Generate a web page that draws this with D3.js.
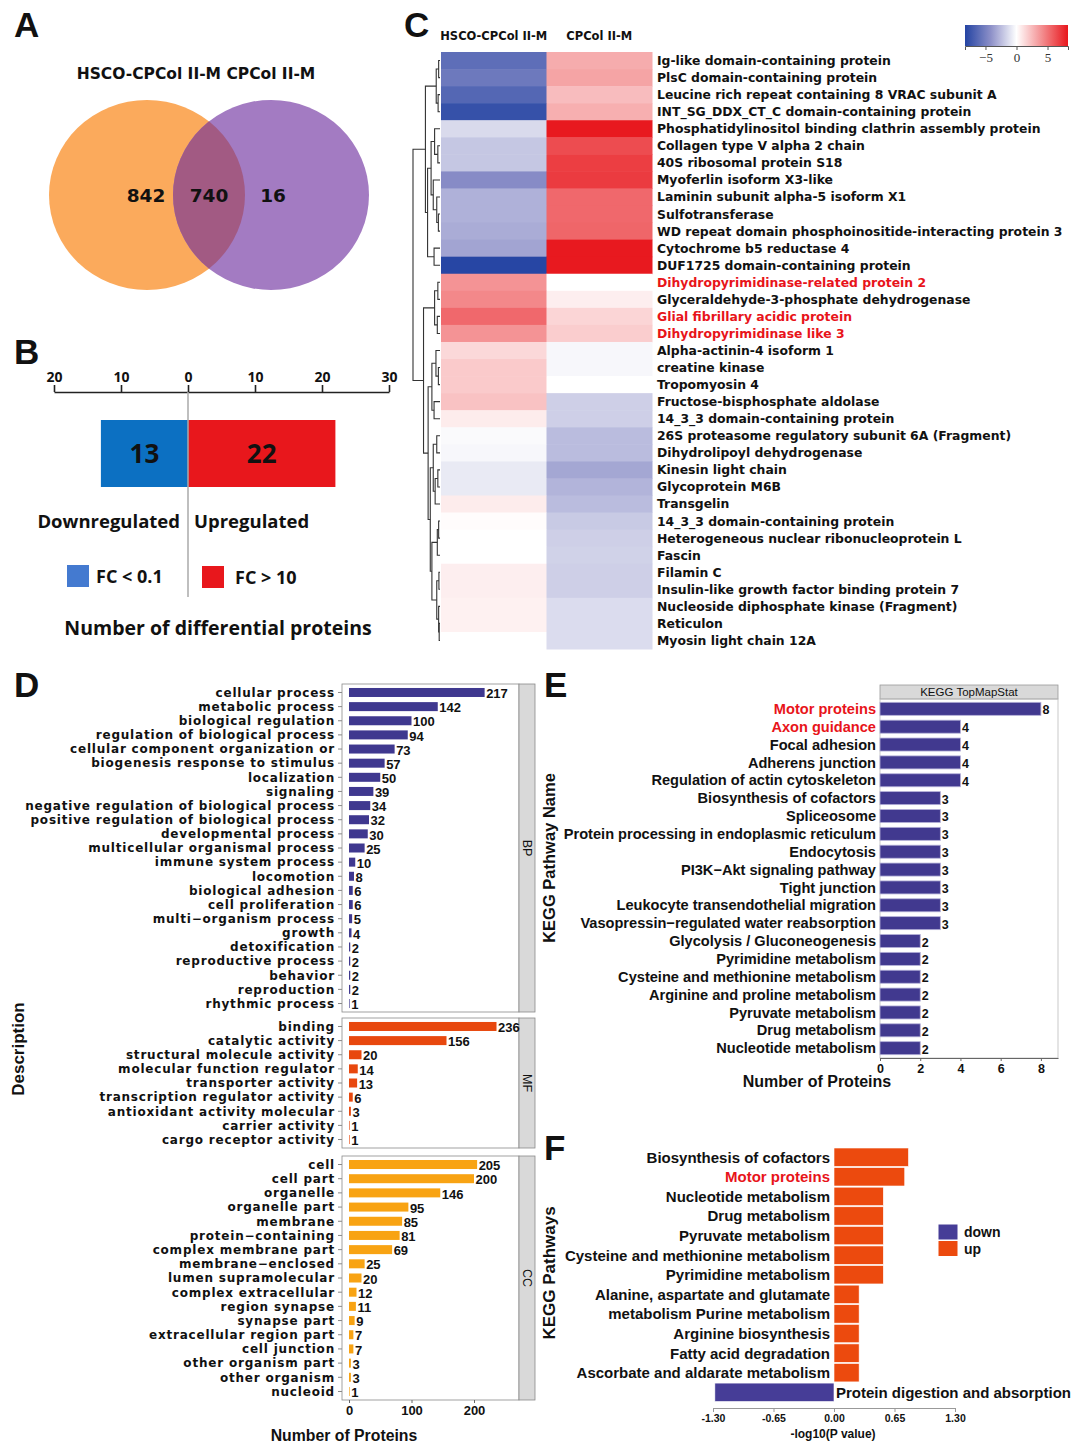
<!DOCTYPE html>
<html>
<head>
<meta charset="utf-8">
<script src="https://cdn.jsdelivr.net/npm/d3@7"></script>
<style>
  body { margin: 0; background: #fff; }
  svg { display: block; }
  text { font-family: "Liberation Sans", Arial, sans-serif; fill: #111; }
  .os { font-family: "Open Sans", "DejaVu Sans", sans-serif; }
  .dv { font-family: "DejaVu Sans", Verdana, sans-serif; }
</style>
</head>
<body>
<div id="chart"></div>
<script>
// ---- data ----
const vennSets = ['HSCO-CPCol II-M', 'CPCol II-M'];
const vennCounts = [842, 740, 16]; // only left, shared, only right

const diffLabels = ['Downregulated', 'Upregulated'];
const diffCounts = [-13, 22];
const diffLegend = ['FC < 0.1', 'FC > 10'];

const heatColumns = ['HSCO-CPCol II-M', 'CPCol II-M'];
const heatProteins = [
  'Ig-like domain-containing protein',
  'PlsC domain-containing protein',
  'Leucine rich repeat containing 8 VRAC subunit A',
  'INT_SG_DDX_CT_C domain-containing protein',
  'Phosphatidylinositol binding clathrin assembly protein',
  'Collagen type V alpha 2 chain',
  '40S ribosomal protein S18',
  'Myoferlin isoform X3-like',
  'Laminin subunit alpha-5 isoform X1',
  'Sulfotransferase',
  'WD repeat domain phosphoinositide-interacting protein 3',
  'Cytochrome b5 reductase 4',
  'DUF1725 domain-containing protein',
  'Dihydropyrimidinase-related protein 2',
  'Glyceraldehyde-3-phosphate dehydrogenase',
  'Glial fibrillary acidic protein',
  'Dihydropyrimidinase like 3',
  'Alpha-actinin-4 isoform 1',
  'creatine kinase',
  'Tropomyosin 4',
  'Fructose-bisphosphate aldolase',
  '14_3_3 domain-containing protein',
  '26S proteasome regulatory subunit 6A (Fragment)',
  'Dihydrolipoyl dehydrogenase',
  'Kinesin light chain',
  'Glycoprotein M6B',
  'Transgelin',
  '14_3_3 domain-containing protein',
  'Heterogeneous nuclear ribonucleoprotein L',
  'Fascin',
  'Filamin C',
  'Insulin-like growth factor binding protein 7',
  'Nucleoside diphosphate kinase (Fragment)',
  'Reticulon',
  'Myosin light chain 12A',
];
const heatHSCO = [-6.0, -5.4, -6.4, -7.6, -1.4, -2.1, -2.1, -4.4, -2.9, -2.9, -3.1, -3.4, -8.2,
  3.9, 4.3, 5.4, 3.9, 1.4, 1.9, 1.9, 2.2, 0.7, -0.2, -0.3, -0.8, -0.8, 0.7, 0.1, 0.0, 0.0,
  0.6, 0.6, 0.5, 0.5, 0.0];
const heatCPCol = [3.0, 3.3, 2.4, 2.9, 8.2, 6.4, 6.9, 7.0, 5.4, 5.4, 5.5, 8.2, 8.2,
  0.0, 0.6, 1.5, 1.8, -0.3, -0.3, 0.0, -1.8, -1.8, -2.5, -2.5, -3.3, -2.8, -2.5, -2.0, -1.8, -1.7,
  -1.8, -1.8, -1.3, -1.3, -1.3];
const heatRedRows = [13, 15, 16];
const heatLegendTicks = [-5, 0, 5];
// merge tree: [height, left, right], leaves are row indices
const heatTree = [1.0,
  [0.54,
    [0.14, [0.05, 0, 1], [0.07, 2, 3]],
    [0.46,
      [0.33, [0.2, 4, [0.08, 5, 6]], [0.25, 7, [0.12, 8, [0.06, 9, 10]]]],
      [0.22, 11, 12]]],
  [0.61,
    [0.2, [0.08, 13, 14], [0.1, 15, 16]],
    [0.44,
      [0.3, [0.15, 17, [0.06, 18, 19]], [0.22, 20, 21]],
      [0.36,
        [0.25, [0.12, 22, 23], [0.18, [0.08, 24, 25], 26]],
        [0.3, [0.1, [0.05, 27, 28], 29], [0.12, [0.04, 30, 31], [0.05, 32, [0.03, 33, 34]]]]]]]];

const bpTerms = ['cellular process', 'metabolic process', 'biological regulation',
  'regulation of biological process', 'cellular component organization or',
  'biogenesis response to stimulus', 'localization', 'signaling',
  'negative regulation of biological process', 'positive regulation of biological process',
  'developmental process', 'multicellular organismal process', 'immune system process',
  'locomotion', 'biological adhesion', 'cell proliferation', 'multi\u2212organism process',
  'growth', 'detoxification', 'reproductive process', 'behavior', 'reproduction',
  'rhythmic process'];
const bpCounts = [217, 142, 100, 94, 73, 57, 50, 39, 34, 32, 30, 25, 10, 8, 6, 6, 5, 4, 2, 2, 2, 2, 1];
const mfTerms = ['binding', 'catalytic activity', 'structural molecule activity',
  'molecular function regulator', 'transporter activity', 'transcription regulator activity',
  'antioxidant activity molecular', 'carrier activity', 'cargo receptor activity'];
const mfCounts = [236, 156, 20, 14, 13, 6, 3, 1, 1];
const ccTerms = ['cell', 'cell part', 'organelle', 'organelle part', 'membrane',
  'protein\u2212containing', 'complex  membrane part', 'membrane\u2212enclosed',
  'lumen supramolecular', 'complex  extracellular', 'region  synapse', 'synapse part',
  'extracellular region part', 'cell junction', 'other organism part', 'other organism', 'nucleoid'];
const ccCounts = [205, 200, 146, 95, 85, 81, 69, 25, 20, 12, 11, 9, 7, 7, 3, 3, 1];
const goTicks = [0, 100, 200];

const keggNames = ['Motor proteins', 'Axon guidance', 'Focal adhesion', 'Adherens junction',
  'Regulation of actin cytoskeleton', 'Biosynthesis of cofactors', 'Spliceosome',
  'Protein processing in endoplasmic reticulum', 'Endocytosis', 'PI3K\u2212Akt signaling pathway',
  'Tight junction', 'Leukocyte transendothelial migration',
  'Vasopressin\u2212regulated water reabsorption', 'Glycolysis / Gluconeogenesis',
  'Pyrimidine metabolism', 'Cysteine and methionine metabolism', 'Arginine and proline metabolism',
  'Pyruvate metabolism', 'Drug metabolism', 'Nucleotide metabolism'];
const keggCounts = [8, 4, 4, 4, 4, 3, 3, 3, 3, 3, 3, 3, 3, 2, 2, 2, 2, 2, 2, 2];
const keggRed = ['Motor proteins', 'Axon guidance'];
const keggTicks = [0, 2, 4, 6, 8];

const enrichNames = ['Biosynthesis of cofactors', 'Motor proteins', 'Nucleotide metabolism',
  'Drug metabolism', 'Pyruvate metabolism', 'Cysteine and methionine metabolism',
  'Pyrimidine metabolism', 'Alanine, aspartate and glutamate', 'metabolism Purine metabolism',
  'Arginine biosynthesis', 'Fatty acid degradation', 'Ascorbate and aldarate metabolism',
  'Protein digestion and absorption'];
const enrichValues = [0.80, 0.76, 0.53, 0.53, 0.53, 0.53, 0.53, 0.27, 0.27, 0.27, 0.27, 0.27, -1.28];
const enrichRed = ['Motor proteins'];
const enrichTicks = [-1.3, -0.65, 0, 0.65, 1.3];
const enrichLegend = ['down', 'up'];

const RED_TEXT = '#e8141a';

// ---- setup ----
const svg = d3.select('#chart')
    .append('svg')
    .attr('width', 1080)
    .attr('height', 1451);

const panelLetter = (txt, x, y) => {
  svg.append('text')
      .attr('x', x)
      .attr('y', y)
      .style('font-size', '35px')
      .style('font-weight', 'bold')
      .text(txt);
};
panelLetter('A', 14, 37);
panelLetter('B', 14, 364);
panelLetter('C', 404, 37);
panelLetter('D', 14, 697);
panelLetter('E', 544, 697);
panelLetter('F', 544, 1160);

// ---- A: venn ----
const venn = svg.append('g');
const vennL = {cx: 147, cy: 195, rx: 98, ry: 95};
const vennR = {cx: 271, cy: 195, rx: 98, ry: 95};
venn.append('clipPath')
    .attr('id', 'clipL')
    .append('ellipse')
    .attr('cx', vennL.cx).attr('cy', vennL.cy).attr('rx', vennL.rx).attr('ry', vennL.ry);
venn.append('ellipse')
    .attr('cx', vennL.cx).attr('cy', vennL.cy).attr('rx', vennL.rx).attr('ry', vennL.ry)
    .attr('fill', '#fbaa5c');
venn.append('ellipse')
    .attr('cx', vennR.cx).attr('cy', vennR.cy).attr('rx', vennR.rx).attr('ry', vennR.ry)
    .attr('fill', '#a37bc2');
venn.append('ellipse')
    .attr('clip-path', 'url(#clipL)')
    .attr('cx', vennR.cx).attr('cy', vennR.cy).attr('rx', vennR.rx).attr('ry', vennR.ry)
    .attr('fill', '#a25a83');
venn.append('text')
    .attr('class', 'dv')
    .attr('x', 196)
    .attr('y', 79)
    .attr('text-anchor', 'middle')
    .style('font-size', '15.5px')
    .style('font-weight', 'bold')
    .text(vennSets.join('  '));
venn.selectAll('.vc')
    .data(vennCounts)
    .enter()
    .append('text')
    .attr('class', 'dv')
    .attr('x', (d, i) => [146, 209, 273][i])
    .attr('y', 202)
    .attr('text-anchor', 'middle')
    .style('font-size', '18.5px')
    .style('font-weight', 'bold')
    .text((d) => d);

// ---- B: diverging bar ----
const xB = d3.scaleLinear().domain([-20, 30]).range([54, 389]);
const gB = svg.append('g');
gB.append('g')
    .attr('transform', 'translate(0, 392)')
    .call(d3.axisTop(xB).tickValues([-20, -10, 0, 10, 20, 30])
        .tickFormat((d) => Math.abs(d)).tickSize(7).tickSizeOuter(0))
    .call((g) => {
      g.select('.domain').attr('stroke', '#222').attr('stroke-width', 1.6);
      g.selectAll('.tick line').attr('stroke', '#222').attr('stroke-width', 1.6);
      g.selectAll('.tick text')
          .attr('class', 'os')
          .style('font-size', '14px')
          .style('font-weight', 'bold');
    });
gB.selectAll('.barB')
    .data(diffCounts)
    .enter()
    .append('rect')
    .attr('x', (d) => xB(Math.min(0, d)))
    .attr('width', (d) => Math.abs(xB(d) - xB(0)))
    .attr('y', 420)
    .attr('height', 67)
    .attr('fill', (d) => d < 0 ? '#0c70c2' : '#e8171c');
gB.append('line')
    .attr('x1', xB(0)).attr('x2', xB(0))
    .attr('y1', 392).attr('y2', 597)
    .attr('stroke', '#aaa').attr('stroke-width', 1.5);
gB.selectAll('.numB')
    .data(diffCounts)
    .enter()
    .append('text')
    .attr('class', 'os')
    .attr('x', (d) => (xB(d) + xB(0)) / 2)
    .attr('y', 463)
    .attr('text-anchor', 'middle')
    .style('font-size', '26px')
    .style('font-weight', 'bold')
    .text((d) => Math.abs(d));
gB.selectAll('.lblB')
    .data(diffLabels)
    .enter()
    .append('text')
    .attr('class', 'os')
    .attr('x', (d, i) => i === 0 ? xB(0) - 8 : xB(0) + 6)
    .attr('y', 528)
    .attr('text-anchor', (d, i) => i === 0 ? 'end' : 'start')
    .style('font-size', '18.5px')
    .style('font-weight', 'bold')
    .text((d) => d);
diffLegend.forEach((d, i) => {
  const lx = i === 0 ? 67 : 202;
  gB.append('rect')
      .attr('x', lx).attr('y', 565 + i)
      .attr('width', 22).attr('height', 22)
      .attr('fill', i === 0 ? '#447ad0' : '#e8171c');
  gB.append('text')
      .attr('class', 'os')
      .attr('x', lx + (i === 0 ? 29 : 33))
      .attr('y', 583 + i)
      .style('font-size', '18px')
      .style('font-weight', 'bold')
      .text(d);
});
gB.append('text')
    .attr('class', 'os')
    .attr('x', 218)
    .attr('y', 635)
    .attr('text-anchor', 'middle')
    .style('font-size', '19.5px')
    .style('font-weight', 'bold')
    .text('Number of differential proteins');

// ---- C: heatmap ----
const gC = svg.append('g');
const rowIdx = d3.range(heatProteins.length);
const yC = d3.scaleBand().domain(rowIdx).range([52, 649]);
const xC = d3.scaleBand().domain(heatColumns).range([441, 652]);
const heatColor = d3.scaleLinear()
    .domain([-8.3, -4.15, 0, 4.15, 8.3])
    .range(['#2444a3', '#8d90c8', '#ffffff', '#f38c8e', '#e8161c']);
const heatCells = [];
rowIdx.forEach((i) => {
  heatCells.push({row: i, col: heatColumns[0], v: heatHSCO[i]});
  heatCells.push({row: i, col: heatColumns[1], v: heatCPCol[i]});
});
gC.selectAll('.cell')
    .data(heatCells)
    .enter()
    .append('rect')
    .attr('x', (d) => xC(d.col))
    .attr('y', (d) => yC(d.row))
    .attr('width', xC.bandwidth() + 0.5)
    .attr('height', yC.bandwidth() + 0.5)
    .attr('fill', (d) => heatColor(d.v));
gC.selectAll('.colname')
    .data(heatColumns)
    .enter()
    .append('text')
    .attr('class', 'dv')
    .attr('x', (d) => xC(d) + xC.bandwidth() / 2)
    .attr('y', 40)
    .attr('text-anchor', 'middle')
    .style('font-size', '11.5px')
    .style('font-weight', 'bold')
    .text((d) => d);
gC.selectAll('.rowname')
    .data(rowIdx)
    .enter()
    .append('text')
    .attr('class', 'dv')
    .attr('x', 657)
    .attr('y', (d) => yC(d) + yC.bandwidth() / 2)
    .attr('dy', '0.36em')
    .style('fill', (d) => heatRedRows.includes(d) ? RED_TEXT : '#111')
    .style('font-size', '12.4px')
    .style('font-weight', 'bold')
    .text((d) => heatProteins[d]);

// dendrogram
const xDen = d3.scaleLinear().domain([0, 1]).range([440, 413]);
const drawNode = (node) => {
  if (typeof node === 'number') {
    return {x: xDen(0), y: yC(node) + yC.bandwidth() / 2};
  }
  const a = drawNode(node[1]);
  const b = drawNode(node[2]);
  const x = xDen(node[0]);
  gC.append('path')
      .attr('d', `M${a.x},${a.y}H${x}V${b.y}H${b.x}`)
      .attr('fill', 'none')
      .attr('stroke', '#333')
      .attr('stroke-width', 1.1);
  return {x: x, y: (a.y + b.y) / 2};
};
drawNode(heatTree);

// colour key
const defs = svg.append('defs');
const grad = defs.append('linearGradient').attr('id', 'heatGrad');
d3.range(0, 1.001, 0.05).forEach((t) => {
  grad.append('stop')
      .attr('offset', t)
      .attr('stop-color', heatColor(-8.3 + t * 16.6));
});
const xKey = d3.scaleLinear().domain([-8.3, 8.3]).range([965, 1068]);
gC.append('rect')
    .attr('x', 965).attr('y', 25)
    .attr('width', 103).attr('height', 21)
    .attr('fill', 'url(#heatGrad)');
gC.append('g')
    .attr('transform', 'translate(0, 46)')
    .call(d3.axisBottom(xKey).tickValues(heatLegendTicks).tickSize(4)
        .tickFormat((d) => d < 0 ? '\u2212' + Math.abs(d) : d))
    .call((g) => {
      g.select('.domain').attr('stroke', '#555');
      g.selectAll('.tick line').attr('stroke', '#555');
      g.selectAll('.tick text')
          .style('fill', '#333')
          .style('font-family', '"Liberation Serif", "DejaVu Serif", serif')
          .style('font-size', '13px');
    });

// ---- D: GO facets ----
const xD = d3.scaleLinear().domain([-11.2, 272]).range([342, 519]);
const goFacets = [
  {name: 'BP', terms: bpTerms, counts: bpCounts, color: '#3f388f', top: 684, bottom: 1012},
  {name: 'MF', terms: mfTerms, counts: mfCounts, color: '#e8480e', top: 1018, bottom: 1148},
  {name: 'CC', terms: ccTerms, counts: ccCounts, color: '#f8a313', top: 1156, bottom: 1400},
];
const gD = svg.append('g');
goFacets.forEach((f) => {
  const y = d3.scalePoint().domain(f.terms).range([f.top, f.bottom]).padding(0.6);
  const rows = f.terms.map((t, i) => ({term: t, n: f.counts[i]}));
  gD.append('rect')
      .attr('x', 342).attr('y', f.top)
      .attr('width', 177).attr('height', f.bottom - f.top)
      .attr('fill', '#fff').attr('stroke', '#8a8a8a').attr('stroke-width', 0.8);
  gD.append('rect')
      .attr('x', 519).attr('y', f.top)
      .attr('width', 16).attr('height', f.bottom - f.top)
      .attr('fill', '#d9d9d9').attr('stroke', '#8a8a8a').attr('stroke-width', 0.8);
  gD.append('text')
      .attr('transform', `translate(523, ${(f.top + f.bottom) / 2}) rotate(90)`)
      .attr('text-anchor', 'middle')
      .style('font-size', '12.5px')
      .text(f.name);
  const row = gD.selectAll('.r' + f.name)
      .data(rows)
      .enter()
      .append('g');
  row.append('line')
      .attr('x1', 338).attr('x2', 342)
      .attr('y1', (d) => y(d.term)).attr('y2', (d) => y(d.term))
      .attr('stroke', '#888');
  row.append('rect')
      .attr('x', xD(0))
      .attr('y', (d) => y(d.term) - 4.5)
      .attr('width', (d) => xD(d.n) - xD(0))
      .attr('height', 9)
      .attr('fill', f.color);
  row.append('text')
      .attr('class', 'dv')
      .attr('x', 335)
      .attr('y', (d) => y(d.term))
      .attr('dy', '0.36em')
      .attr('text-anchor', 'end')
      .style('font-size', '12px')
      .style('letter-spacing', '0.8px')
      .style('font-weight', 'bold')
      .text((d) => d.term);
  row.append('text')
      .attr('x', (d) => xD(d.n) + 1.5)
      .attr('y', (d) => y(d.term) + 1)
      .attr('dy', '0.36em')
      .style('font-size', '13px')
      .style('font-weight', 'bold')
      .text((d) => d.n);
});
gD.append('g')
    .attr('transform', 'translate(0, 1400)')
    .call(d3.axisBottom(xD).tickValues(goTicks).tickSize(3))
    .call((g) => {
      g.select('.domain').remove();
      g.selectAll('.tick line').attr('stroke', '#666');
      g.selectAll('.tick text')
          .style('font-size', '13px')
          .style('font-weight', 'bold');
    });
gD.append('text')
    .attr('x', 344)
    .attr('y', 1441)
    .attr('text-anchor', 'middle')
    .style('font-size', '15.8px')
    .style('font-weight', 'bold')
    .text('Number of Proteins');
gD.append('text')
    .attr('transform', 'translate(24, 1049) rotate(-90)')
    .attr('text-anchor', 'middle')
    .style('font-size', '17px')
    .style('font-weight', 'bold')
    .text('Description');

// ---- E: KEGG top map ----
const xE = d3.scaleLinear().domain([0, 8.85]).range([880, 1058]);
const yE = d3.scalePoint().domain(keggNames).range([699, 1058]).padding(0.55);
const gE = svg.append('g');
gE.append('rect')
    .attr('x', 880).attr('y', 685)
    .attr('width', 178).attr('height', 14)
    .attr('fill', '#d9d9d9').attr('stroke', '#999').attr('stroke-width', 0.8);
gE.append('text')
    .attr('x', 969).attr('y', 696)
    .attr('text-anchor', 'middle')
    .style('font-size', '11.5px')
    .text('KEGG TopMapStat');
gE.append('rect')
    .attr('x', 880).attr('y', 699)
    .attr('width', 178).attr('height', 359)
    .attr('fill', 'none').attr('stroke', '#bbb').attr('stroke-width', 0.8);
gE.selectAll('.barE')
    .data(keggNames)
    .enter()
    .append('rect')
    .attr('x', xE(0))
    .attr('y', (d) => yE(d) - 6.5)
    .attr('width', (d, i) => xE(keggCounts[i]) - xE(0))
    .attr('height', 13)
    .attr('fill', '#41398f')
    .attr('stroke', '#b3b0d8')
    .attr('stroke-width', 0.8);
gE.selectAll('.lblE')
    .data(keggNames)
    .enter()
    .append('text')
    .attr('x', 876)
    .attr('y', (d) => yE(d))
    .attr('dy', '0.35em')
    .attr('text-anchor', 'end')
    .style('fill', (d) => keggRed.includes(d) ? RED_TEXT : '#111')
    .style('font-size', '14.6px')
    .style('font-weight', 'bold')
    .text((d) => d);
gE.selectAll('.valE')
    .data(keggNames)
    .enter()
    .append('text')
    .attr('x', (d, i) => xE(keggCounts[i]) + 1.5)
    .attr('y', (d) => yE(d) + 1)
    .attr('dy', '0.36em')
    .style('font-size', '12.5px')
    .style('font-weight', 'bold')
    .text((d, i) => keggCounts[i]);
gE.append('g')
    .attr('transform', 'translate(0, 1058)')
    .call(d3.axisBottom(xE).tickValues(keggTicks).tickSize(3).tickSizeOuter(0))
    .call((g) => {
      g.select('.domain').attr('stroke', '#666').attr('stroke-width', 1.2);
      g.selectAll('.tick line').attr('stroke', '#666');
      g.selectAll('.tick text')
          .style('font-size', '12.5px')
          .style('font-weight', 'bold');
    });
gE.append('text')
    .attr('x', 817).attr('y', 1087)
    .attr('text-anchor', 'middle')
    .style('font-size', '16px')
    .style('font-weight', 'bold')
    .text('Number of Proteins');
gE.append('text')
    .attr('transform', 'translate(555, 858) rotate(-90)')
    .attr('text-anchor', 'middle')
    .style('font-size', '16.5px')
    .style('font-weight', 'bold')
    .text('KEGG Pathway Name');

// ---- F: enrichment ----
const xF = d3.scaleLinear().domain([-1.3, 1.3]).range([713, 955]);
const yF = d3.scaleBand().domain(enrichNames).range([1148, 1401.5]).paddingInner(0.06);
const gF = svg.append('g');
gF.selectAll('.barF')
    .data(enrichNames)
    .enter()
    .append('rect')
    .attr('x', (d, i) => xF(Math.min(0, enrichValues[i])))
    .attr('y', (d) => yF(d))
    .attr('width', (d, i) => Math.abs(xF(enrichValues[i]) - xF(0)))
    .attr('height', yF.bandwidth())
    .attr('fill', (d, i) => enrichValues[i] < 0 ? '#463d97' : '#ec4a0e')
    .attr('stroke', '#fff')
    .attr('stroke-width', 0.6);
gF.selectAll('.lblF')
    .data(enrichNames)
    .enter()
    .append('text')
    .attr('x', (d, i) => enrichValues[i] < 0 ? xF(0) + 2 : xF(0) - 4)
    .attr('y', (d) => yF(d) + yF.bandwidth() / 2)
    .attr('dy', '0.36em')
    .attr('text-anchor', (d, i) => enrichValues[i] < 0 ? 'start' : 'end')
    .style('fill', (d) => enrichRed.includes(d) ? RED_TEXT : '#111')
    .style('font-size', '15px')
    .style('font-weight', 'bold')
    .text((d) => d);
gF.append('g')
    .attr('transform', 'translate(0, 1408)')
    .call(d3.axisBottom(xF).tickValues(enrichTicks).tickSize(4).tickSizeOuter(0)
        .tickFormat((d) => d3.format('.2f')(d).replace('\u2212', '-')))
    .call((g) => {
      g.select('.domain').attr('stroke', '#999');
      g.selectAll('.tick line').attr('stroke', '#999');
      g.selectAll('.tick text')
          .style('font-size', '10.5px')
          .style('font-weight', 'bold');
    });
gF.append('text')
    .attr('x', 833).attr('y', 1438)
    .attr('text-anchor', 'middle')
    .style('font-size', '12px')
    .style('font-weight', 'bold')
    .text('-log10(P value)');
gF.append('text')
    .attr('transform', 'translate(555, 1273) rotate(-90)')
    .attr('text-anchor', 'middle')
    .style('font-size', '17px')
    .style('font-weight', 'bold')
    .text('KEGG Pathways');
enrichLegend.forEach((d, i) => {
  gF.append('rect')
      .attr('x', 938).attr('y', 1224 + i * 16.5)
      .attr('width', 20).attr('height', 16)
      .attr('fill', i === 0 ? '#463d97' : '#ec4a0e')
      .attr('stroke', '#fff');
  gF.append('text')
      .attr('x', 964).attr('y', 1232 + i * 16.5)
      .attr('dy', '0.36em')
      .style('font-size', '14px')
      .style('font-weight', 'bold')
      .text(d);
});
</script>
</body>
</html>
